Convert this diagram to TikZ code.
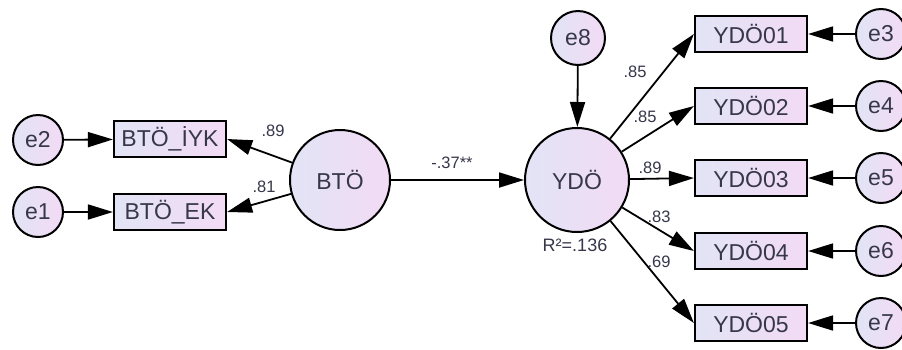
\documentclass[tikz,border=0pt]{standalone}
\usepackage{fontspec}
\setmainfont{Liberation Sans}
\usetikzlibrary{arrows.meta}
\definecolor{fillL}{RGB}{226,228,245}
\definecolor{fillR}{RGB}{243,219,245}
\definecolor{txt}{RGB}{55,55,75}
\tikzset{
  errc/.style={circle,draw=black,line width=2pt,minimum size=50pt,inner sep=0pt,
    left color=fillL,right color=fillR,text=txt,font=\fontsize{23}{26}\selectfont},
  latc/.style={circle,draw=black,line width=2pt,minimum size=104pt,inner sep=0pt,
    left color=fillL,right color=fillR,text=txt,font=\fontsize{23}{26}\selectfont},
  obsbox/.style={rectangle,draw=black,line width=2.2pt,minimum width=112pt,minimum height=36pt,
    inner sep=0pt,left color=fillL,right color=fillR,text=txt,font=\fontsize{23}{26}\selectfont},
  arr/.style={line width=1.8pt,-{Triangle[length=25pt,width=15pt]}},
  wlab/.style={text=txt,font=\fontsize{16.5}{18}\selectfont,inner sep=0pt}
}
\begin{document}
\begin{tikzpicture}[x=1pt,y=-1pt]
\useasboundingbox[fill=white] (0,0) rectangle (902,349);
% left side
\node[errc] (e2) at (38,140) {e2};
\node[errc] (e1) at (38,212) {e1};
\node[obsbox] (b1) at (170,139) {BTÖ\_İYK};
\node[obsbox] (b2) at (170,212) {BTÖ\_EK};
\node[latc,minimum size=100pt] (bto) at (340,180) {BTÖ};
% right side
\node[latc] (ydo) at (577,180) {YDÖ};
\node[errc,minimum size=54pt] (e8) at (578,38) {e8};
\node[obsbox] (y1) at (751,34) {YDÖ01};
\node[obsbox] (y2) at (751,106) {YDÖ02};
\node[obsbox] (y3) at (751,178) {YDÖ03};
\node[obsbox] (y4) at (751,251) {YDÖ04};
\node[obsbox] (y5) at (751,323) {YDÖ05};
\node[errc] (e3) at (881,34) {e3};
\node[errc] (e4) at (881,106) {e4};
\node[errc] (e5) at (881,178) {e5};
\node[errc] (e6) at (881,251) {e6};
\node[errc] (e7) at (881,323) {e7};
% connectors
\draw[arr] (e2) -- (b1);
\draw[arr] (e1) -- (b2);
\draw[arr] (bto) -- (b1.east);
\draw[arr] (bto) -- (b2.east);
\draw[arr] (bto) -- (ydo);
\draw[arr] (e8) -- (ydo);
\draw[arr] (ydo) -- (y1.west);
\draw[arr] (ydo) -- (y2.west);
\draw[arr] (ydo) -- (y3.west);
\draw[arr] (ydo) -- (y4.west);
\draw[arr] (ydo) -- (y5.west);
\draw[arr] (e3) -- (y1);
\draw[arr] (e4) -- (y2);
\draw[arr] (e5) -- (y3);
\draw[arr] (e6) -- (y4);
\draw[arr] (e7) -- (y5);
% labels
\node[wlab] (l1) at (273,131) {.89};
\node[wlab] (l2) at (264,187) {.81};
\node[wlab] (l3) at (452,163) {-.37**};
\node[wlab] (l4) at (635,72) {.85};
\node[wlab] (l5) at (645,117) {.85};
\node[wlab] (l6) at (650,168) {.89};
\node[wlab] (l7) at (659,217) {.83};
\node[wlab] (l8) at (659,262) {.69};
\node[wlab,font=\fontsize{18}{20}\selectfont] (r2) at (575,245) {R²=.136};
\end{tikzpicture}
\end{document}
